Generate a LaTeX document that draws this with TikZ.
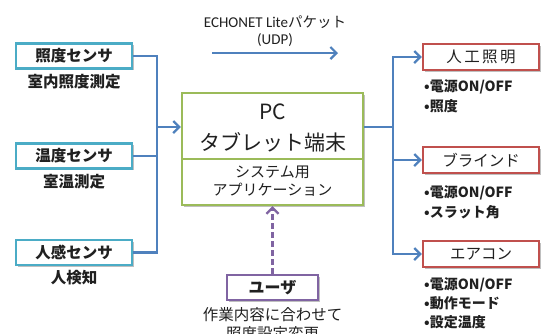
\documentclass[tikz,border=0pt]{standalone}
\usepackage{fontspec}
\setmainfont{Noto Sans CJK JP}
\newfontfamily\latinfont{Carlito}
\usetikzlibrary{arrows.meta,shadows}
\definecolor{sensorc}{HTML}{4BACC6}
\definecolor{devc}{HTML}{C0504D}
\definecolor{pcc}{HTML}{9BBB59}
\definecolor{userc}{HTML}{8064A2}
\definecolor{arrowc}{HTML}{4F81BD}
\definecolor{txt}{HTML}{202020}
\tikzset{
  boxshadow/.style={drop shadow={shadow xshift=1.5pt,shadow yshift=-1.5pt,opacity=0.25,fill=black}},
  sensorbox/.style={draw=sensorc,line width=2.4pt,fill=white,minimum width=116,minimum height=25,inner sep=0pt,font=\fontsize{15.5}{15.5}\selectfont\bfseries,text=txt,boxshadow},
  devbox/.style={draw=devc,line width=2.4pt,fill=white,minimum width=116,minimum height=26,inner sep=0pt,font=\fontsize{15.5}{15.5}\selectfont,text=txt,boxshadow},
  userbox/.style={draw=userc,line width=2.4pt,fill=white,minimum width=91,minimum height=25,inner sep=0pt,font=\fontsize{16}{16}\selectfont\bfseries,text=txt,boxshadow},
  pcbox/.style={draw=pcc,line width=2.4pt,fill=white,minimum width=181,minimum height=112,inner sep=0pt,boxshadow},
  sublabel/.style={font=\fontsize{15.5}{15.5}\selectfont\bfseries,text=txt,inner sep=0pt},
  bullet/.style={font=\fontsize{14}{14}\selectfont\bfseries,text=txt,inner sep=0pt,anchor=west},
  conn/.style={draw=arrowc,line width=2.2pt},
  arr/.style={conn,-{Straight Barb[length=6pt,width=12pt,line width=2.2pt]}},
}
\begin{document}
\begin{tikzpicture}[x=1pt,y=-1pt]
\useasboundingbox (0,0) rectangle (541,333);
% left sensors
\node[sensorbox] (s1) at (74,56) {照度センサ};
\node[sensorbox] (s2) at (74,156) {温度センサ};
\node[sensorbox] (s3) at (74,252.5) {人感センサ};
\node[sublabel] (l1) at (74,82) {室内照度測定};
\node[sublabel] (l2) at (74,182) {室温測定};
\node[sublabel] (l3) at (74,278) {人検知};
% PC box
\node[pcbox] (pc) at (272.5,149) {};
\coordinate (dvL) at (182,159);
\coordinate (dvR) at (363,159);
\draw[pcc,line width=2pt] (dvL) -- (dvR);
\node[font=\fontsize{21}{21}\selectfont,text=txt,inner sep=0pt] (pct) at (272.5,112) {PC};
\node[font=\fontsize{21}{21}\selectfont,text=txt,inner sep=0pt] (pct2) at (272.5,142) {タブレット端末};
\node[font=\fontsize{15}{15}\selectfont,text=txt,inner sep=0pt] (app1) at (272.5,172) {システム用};
\node[font=\fontsize{15}{15}\selectfont,text=txt,inner sep=0pt] (app2) at (272.5,190) {アプリケーション};
% left connectors
\coordinate (jL) at (157,127);
\draw[conn] (s1.east) -| (jL);
\draw[conn] (s3.east) -| (jL);
\draw[conn] (s2.east) -- (s2.east -| jL);
\draw[arr] (jL) -- (jL -| pc.west);
% right devices
\node[devbox] (d1) at (481,57) {人\hspace{2.5pt}工\hspace{2.5pt}照\hspace{2.5pt}明};
\node[devbox] (d2) at (481,160) {ブラインド};
\node[devbox] (d3) at (481,254) {エアコン};
\node[bullet] (b11) at (424,87) {•電源ON/OFF};
\node[bullet] (b12) at (424,106) {•照度};
\node[bullet] (b21) at (424,193) {•電源ON/OFF};
\node[bullet] (b22) at (424,212) {•スラット角};
\node[bullet] (b31) at (424,285) {•電源ON/OFF};
\node[bullet] (b32) at (424,303) {•動作モード};
\node[bullet] (b33) at (424,322) {•設定温度};
\coordinate (jR) at (393,127);
\draw[conn] (jR -| pc.east) -- (jR);
\draw[arr] (jR) |- (d1.west);
\draw[arr] (jR) |- (d2.west);
\draw[arr] (jR) |- (d3.west);
% top
\node[font=\fontsize{14.5}{14.5}\selectfont,text=txt,inner sep=0pt] (t1) at (275,22) {{\latinfont\fontsize{15}{15}\selectfont ECHONET Lite}パケット};
\node[font=\latinfont\fontsize{15}{15}\selectfont,text=txt,inner sep=0pt] (t2) at (275,40) {(UDP)};
\coordinate (a1) at (212,53);
\coordinate (a2) at (338,53);
\draw[arr] (a1) -- (a2);
% user
\node[userbox] (u) at (272.5,287.5) {ユーザ};
\draw[userc,line width=2.2pt,dash pattern=on 6pt off 3pt,-{Straight Barb[length=6pt,width=12pt,line width=2.2pt]}] (u.north) -- (u.north |- pc.south);
\node[font=\fontsize{15.5}{15.5}\selectfont,text=txt,inner sep=0pt] (ut1) at (272.5,315) {作業内容に合わせて};
\node[font=\fontsize{15.5}{15.5}\selectfont,text=txt,inner sep=0pt] (ut2) at (272.5,334) {照度設定変更};
\end{tikzpicture}
\end{document}
